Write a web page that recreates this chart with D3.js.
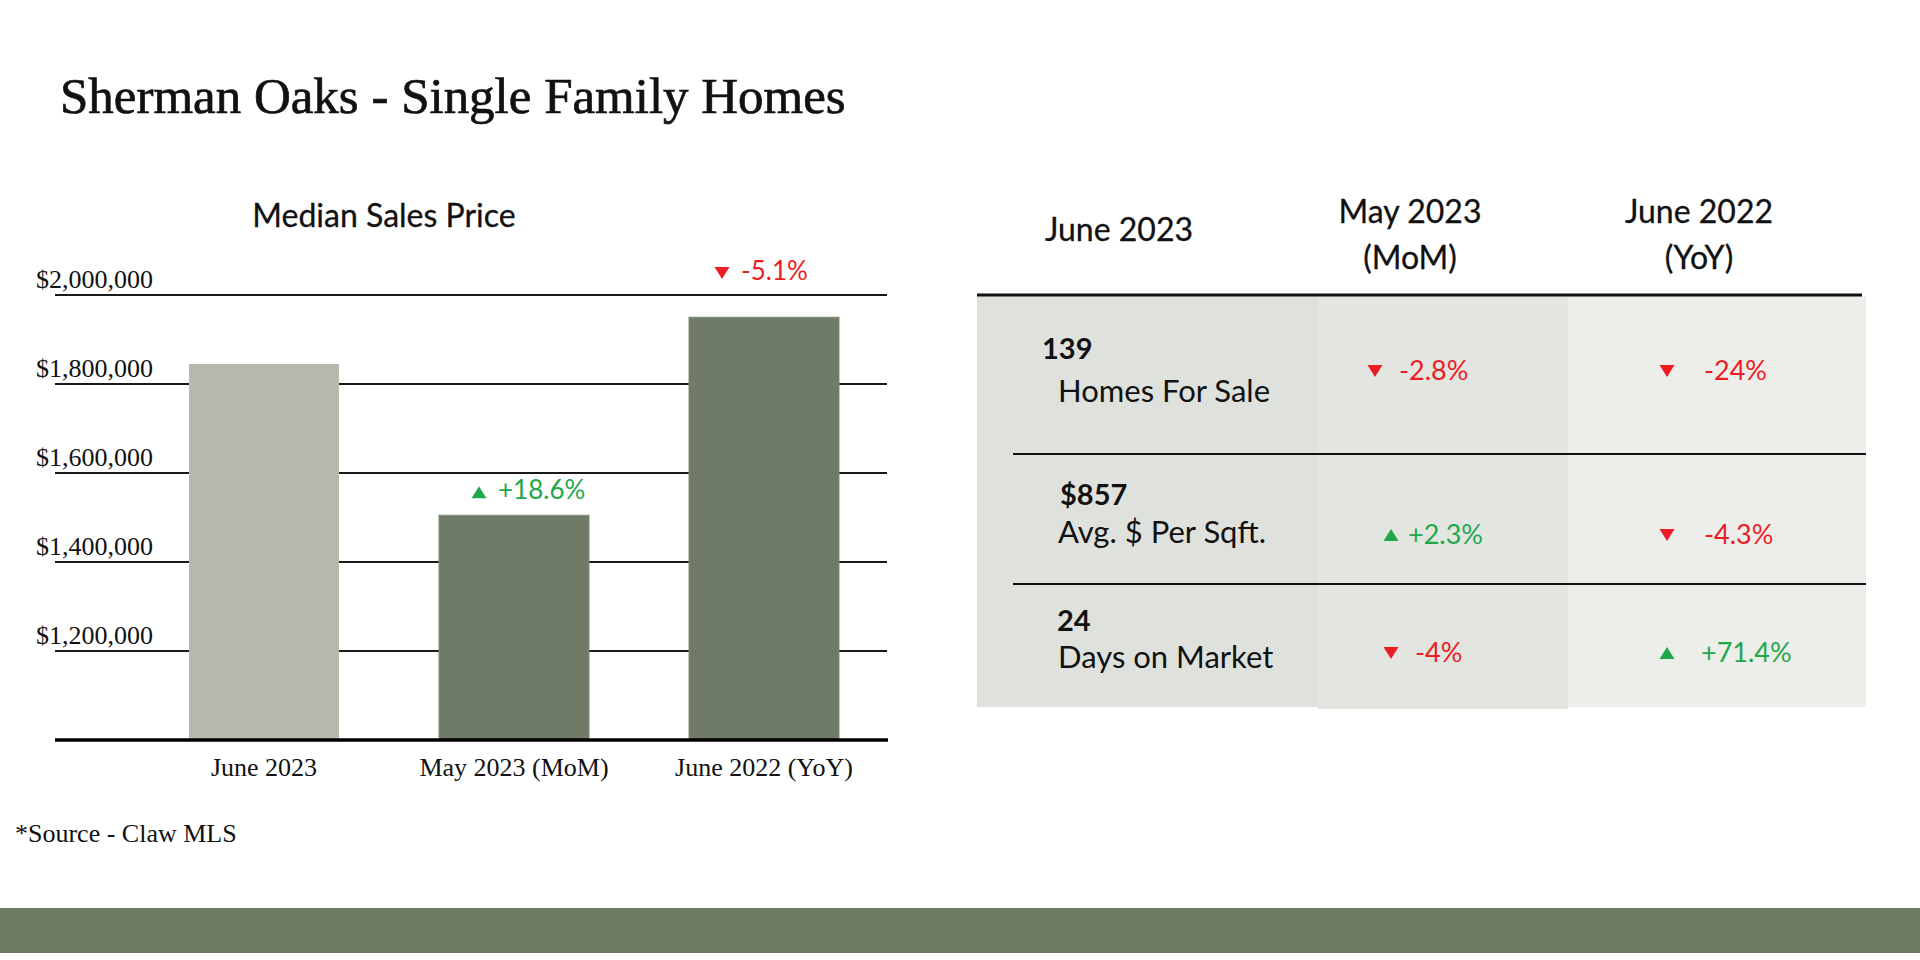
<!DOCTYPE html>
<html>
<head>
<meta charset="utf-8">
<script src="https://cdn.jsdelivr.net/npm/d3@7"></script>
<style>
  body { margin: 0; background: #fff; }
  .serif { font-family: "Liberation Serif", "DejaVu Serif", serif; }
  .sans { font-family: Lato, "Open Sans", sans-serif; }
</style>
</head>
<body>
<script>

// ---- data ----
var categories = ["June 2023", "May 2023 (MoM)", "June 2022 (YoY)"];
var prices = [1845000, 1505000, 1950000];
var barChanges = ["", "+18.6%", "-5.1%"];
var yTicks = [1200000, 1400000, 1600000, 1800000, 2000000];

var tableHeaders = [["June 2023"], ["May 2023", "(MoM)"], ["June 2022", "(YoY)"]];
var metricValues = ["139", "$857", "24"];
var metricLabels = ["Homes For Sale", "Avg. $ Per Sqft.", "Days on Market"];
var momChanges = ["-2.8%", "+2.3%", "-4%"];
var yoyChanges = ["-24%", "-4.3%", "+71.4%"];

var red = "#ec1c24", green = "#1fa84b";

var W = 1920, H = 960;
var svg = d3.select("body").append("svg").attr("width", W).attr("height", H);

// title, sized to the width it has in the layout
var title = svg.append("text").attr("class", "serif").attr("x", 60).attr("y", 113)
  .style("font-size", "48px").attr("fill", "#111")
  .attr("stroke", "#111").attr("stroke-width", 0.7)
  .text("Sherman Oaks - Single Family Homes");
var tl = title.node().getComputedTextLength();
title.style("font-size", (48 * 786 / tl) + "px");

// ---- bar chart ----
var x = d3.scaleBand().domain(categories).range([139, 889]).paddingInner(0.4).paddingOuter(0.2);
var y = d3.scaleLinear().domain([1000000, 2000000]).range([740, 295]);

svg.append("text").attr("class", "sans").attr("x", 384).attr("y", 227)
  .attr("text-anchor", "middle").style("font-size", "32px").attr("fill", "#111")
  .attr("stroke", "#111").attr("stroke-width", 0.3)
  .text("Median Sales Price");

// grid
svg.selectAll(".grid").data(yTicks).enter().append("line")
  .attr("x1", 55).attr("x2", 887)
  .attr("y1", d => y(d)).attr("y2", d => y(d))
  .attr("stroke", "#1a1a1a").attr("stroke-width", 2);

svg.selectAll(".ylab").data(yTicks).enter().append("text")
  .attr("class", "serif").attr("x", 153).attr("y", d => y(d) - 7)
  .attr("text-anchor", "end").style("font-size", "26px").attr("fill", "#111")
  .text(d => d3.format("$,")(d));

svg.selectAll(".bar").data(prices).enter().append("rect")
  .attr("x", (d, i) => x(categories[i]))
  .attr("width", x.bandwidth())
  .attr("y", d => y(d))
  .attr("height", d => y(1000000) - y(d))
  .attr("fill", (d, i) => i == 0 ? "#b7b9ac" : "#6f7b66")
  .attr("stroke", (d, i) => i == 0 ? "none" : "#838a7d")
  .attr("stroke-width", 1);

// baseline
svg.append("line").attr("x1", 55).attr("x2", 888)
  .attr("y1", y(1000000)).attr("y2", y(1000000))
  .attr("stroke", "#000").attr("stroke-width", 3.5);

svg.selectAll(".xlab").data(categories).enter().append("text")
  .attr("class", "serif").attr("x", d => x(d) + x.bandwidth() / 2).attr("y", 776)
  .attr("text-anchor", "middle").style("font-size", "26px").attr("fill", "#111")
  .text(d => d);

function tri(g, cx, cy, up, color) {
  var w = 15, h = 12;
  var pts = up
    ? [[cx - w / 2, cy + h / 2], [cx + w / 2, cy + h / 2], [cx, cy - h / 2]]
    : [[cx - w / 2, cy - h / 2], [cx + w / 2, cy - h / 2], [cx, cy + h / 2]];
  g.append("polygon").attr("points", pts.map(p => p.join(",")).join(" ")).attr("fill", color);
}

barChanges.forEach(function(c, i) {
  if (!c) return;
  var up = c[0] == "+";
  var col = up ? green : red;
  var cx = x(categories[i]) + x.bandwidth() / 2;
  var top = y(prices[i]);
  // labels of bars that reach the top gridline sit above that line
  var ty = (top - y(2000000) < 40) ? y(2000000) - 15 : top - 16;
  var tx = (top - y(2000000) < 40) ? cx - 23 : cx - 16;
  svg.append("text").attr("class", "sans").attr("x", tx).attr("y", ty)
    .style("font-size", "26px").attr("fill", col).text(c);
  tri(svg, tx - 19, ty - 7, up, col);
});

// source
svg.append("text").attr("class", "serif").attr("x", 15).attr("y", 842)
  .style("font-size", "26px").attr("fill", "#111").text("*Source - Claw MLS");

// bottom band
svg.append("rect").attr("x", 0).attr("y", 908).attr("width", W).attr("height", 45).attr("fill", "#6e7b65");

// ---- table ----
var colEdges = [977, 1318, 1568, 1866];
var colFills = ["#dfe2dc", "#e3e5e0", "#edeeea"];
var rowEdges = [296, 454, 584, 707];
var headerX = [1119, 1410, 1699];

var tg = svg.append("g");
colFills.forEach(function(f, i) {
  tg.append("rect").attr("x", colEdges[i]).attr("y", rowEdges[0])
    .attr("width", colEdges[i + 1] - colEdges[i])
    .attr("height", rowEdges[3] - rowEdges[0] + (i == 1 ? 2 : 0)).attr("fill", f);
});

tableHeaders.forEach(function(lines, i) {
  var t = tg.append("text").attr("class", "sans").attr("text-anchor", "middle")
    .style("font-size", "32px").attr("fill", "#111")
    .attr("stroke", "#111").attr("stroke-width", 0.3);
  if (lines.length == 1) {
    t.attr("x", headerX[i]).attr("y", 241).text(lines[0]);
  } else {
    lines.forEach(function(l, j) {
      t.append("tspan").attr("x", headerX[i]).attr("y", 223 + j * 46).text(l);
    });
  }
});

tg.append("line").attr("x1", 977).attr("x2", 1862).attr("y1", 295).attr("y2", 295)
  .attr("stroke", "#111").attr("stroke-width", 3);
[1, 2].forEach(function(r) {
  tg.append("line").attr("x1", 1013).attr("x2", 1866)
    .attr("y1", rowEdges[r]).attr("y2", rowEdges[r])
    .attr("stroke", "#111").attr("stroke-width", 2);
});

var valueX = [1042, 1060, 1057], valueY = [359, 505, 631], labelY = [402, 543, 668];
var changeY = [380, 544, 662];
var momTri = [1375, 1391, 1391], momText = [1399, 1408, 1415];
var yoyTri = [1667, 1667, 1667], yoyText = [1704, 1704, 1701];

metricValues.forEach(function(v, i) {
  tg.append("text").attr("class", "sans").attr("x", valueX[i]).attr("y", valueY[i])
    .style("font-size", "29px").style("font-weight", 700).attr("fill", "#111").text(v);
  tg.append("text").attr("class", "sans").attr("x", 1058).attr("y", labelY[i])
    .style("font-size", "31px").attr("fill", "#111").text(metricLabels[i]);
});

function change(c, tx, ttx, cy) {
  var up = c[0] == "+";
  var col = up ? green : red;
  tg.append("text").attr("class", "sans").attr("x", ttx).attr("y", cy)
    .style("font-size", "27px").attr("fill", col).text(c);
  tri(tg, tx, cy - 9, up, col);
}
momChanges.forEach((c, i) => change(c, momTri[i], momText[i], changeY[i]));
yoyChanges.forEach((c, i) => change(c, yoyTri[i], yoyText[i], changeY[i]));

</script>
</body>
</html>
